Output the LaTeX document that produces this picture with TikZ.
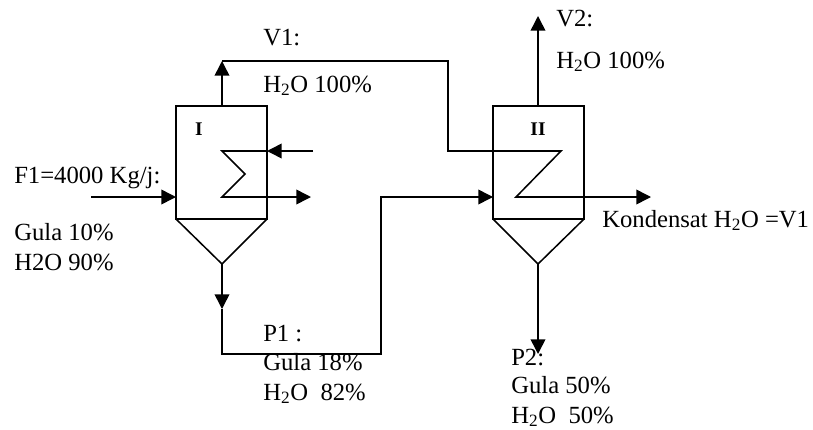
\documentclass[tikz,border=0pt]{standalone}
\usepackage{fontspec}
\setmainfont{Liberation Serif}
\usetikzlibrary{arrows.meta}
\tikzset{
  x=0.75pt,y=-0.75pt,
  line/.style={draw=black,line width=1.15pt,line join=miter},
  flow/.style={line,-{Triangle[length=11pt,width=11pt]}},
  lab/.style={anchor=base west,inner sep=0pt,font=\fontsize{18.5}{20}\selectfont},
  roman/.style={anchor=base,inner sep=0pt,font=\fontsize{14.5}{16}\selectfont\bfseries}
}
\newcommand{\water}{H\textsubscript{2}O}
\begin{document}
\begin{tikzpicture}
\useasboundingbox (0,0) rectangle (813,429);
% unit I
\coordinate (Itl) at (176,106);
\coordinate (Itr) at (267,106);
\coordinate (Ibl) at (176,219);
\coordinate (Ibr) at (267,219);
\coordinate (Iapex) at (222,264);
\coordinate (Itop) at (222,106);
\coordinate (Vone) at (222,61);
\draw[line] (Itl) -- (Itr) -- (Ibr) -- (Ibl) -- cycle;
\draw[line] (Ibl) -- (Iapex) -- (Ibr);
% unit II
\coordinate (IItl) at (493,106);
\coordinate (IItr) at (584,106);
\coordinate (IIbl) at (493,219);
\coordinate (IIbr) at (584,219);
\coordinate (IIapex) at (538,264);
\coordinate (IItop) at (538,106);
\draw[line] (IItl) -- (IItr) -- (IIbr) -- (IIbl) -- cycle;
\draw[line] (IIbl) -- (IIapex) -- (IIbr);
% streams
\coordinate (Fin) at (91,197);
\coordinate (Fend) at (176,197);
\draw[flow] (Fin) -- (Fend);
\draw[flow] (Itop) -- (Vone);
\draw[line] (Vone) -- (448,61) -- (448,151) -- (561,151) -- (516,197) -- (584,197);
\coordinate (Kout) at (651,197);
\draw[flow] (584,197) -- (Kout);
\coordinate (Vtwo) at (538,16);
\draw[flow] (IItop) -- (Vtwo);
% coil I
\coordinate (Sin) at (313,151);
\coordinate (Sout) at (311,197);
\draw[flow] (Sin) -- (267,151);
\draw[line] (267,151) -- (222,151) -- (245,174) -- (222,197) -- (267,197);
\draw[flow] (267,197) -- (Sout);
% P1
\coordinate (Pone) at (222,309);
\draw[flow] (Iapex) -- (Pone);
\draw[line] (Pone) -- (222,354) -- (381,354) -- (381,197) -- (448,197);
\draw[flow] (448,197) -- (493,197);
% P2
\coordinate (Ptwo) at (538,354);
\draw[flow] (IIapex) -- (Ptwo);
% labels
\node[roman] (lI) at (199,135) {I};
\node[roman] (lII) at (538,135) {II};
\node[lab] (v1) at (263,45) {V1:};
\node[lab] (v1w) at (263,92) {\water{} 100\%};
\node[lab] (v2) at (556,26) {V2:};
\node[lab] (v2w) at (556,68) {\water{} 100\%};
\node[lab] (f1) at (14,183) {F1=4000 Kg/j:};
\node[lab] (f1a) at (14,240) {Gula 10\%};
\node[lab] (f1b) at (14,270) {H2O 90\%};
\node[lab] (k) at (602,227) {Kondensat \water{} =V1};
\node[lab] (p1) at (263,341) {P1 :};
\node[lab] (p1a) at (263,370) {Gula 18\%};
\node[lab] (p1b) at (263,400) {\water{}\ \ 82\%};
\node[lab] (p2) at (511,365) {P2:};
\node[lab] (p2a) at (511,393) {Gula 50\%};
\node[lab] (p2b) at (511,423) {\water{}\ \ 50\%};
\end{tikzpicture}
\end{document}
